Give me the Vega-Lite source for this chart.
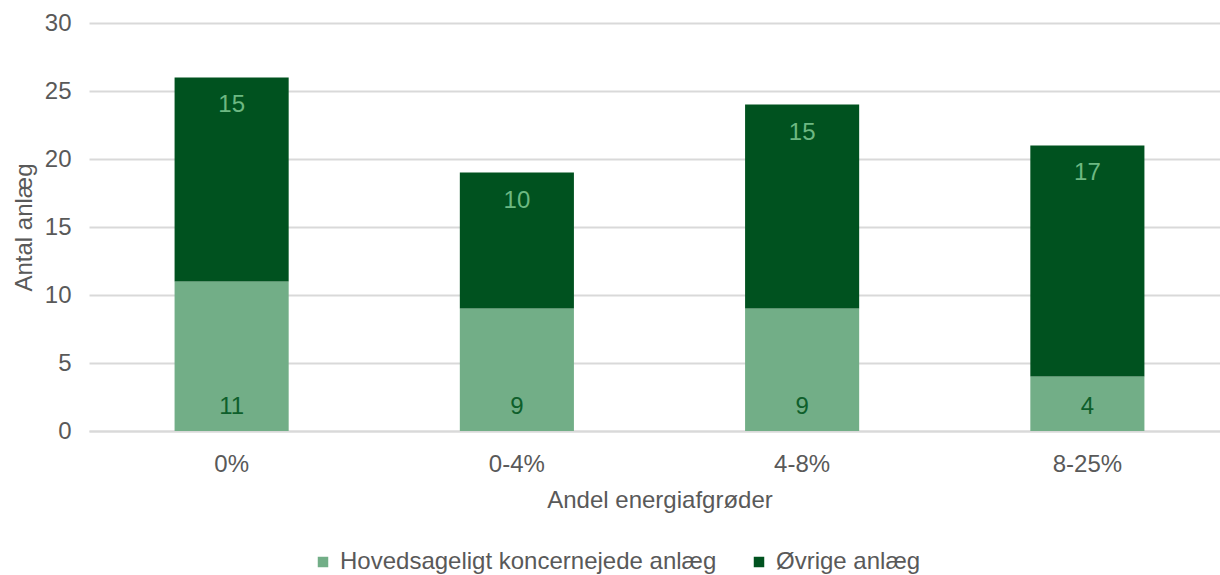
{
  "$schema": "https://vega.github.io/schema/vega-lite/v6.json",
  "autosize": "none",
  "padding": {"left": 89, "top": 23, "right": 0, "bottom": 144},
  "width": 1141,
  "height": 408,
  "background": "white",
  "config": {
    "font": "Liberation Sans",
    "view": {"stroke": null}
  },
  "data": {
    "values": [
      {"andel": "0%", "type": "Hovedsageligt koncernejede anlæg", "antal": 11, "rank": 1},
      {"andel": "0%", "type": "Øvrige anlæg", "antal": 15, "rank": 2},
      {"andel": "0-4%", "type": "Hovedsageligt koncernejede anlæg", "antal": 9, "rank": 1},
      {"andel": "0-4%", "type": "Øvrige anlæg", "antal": 10, "rank": 2},
      {"andel": "4-8%", "type": "Hovedsageligt koncernejede anlæg", "antal": 9, "rank": 1},
      {"andel": "4-8%", "type": "Øvrige anlæg", "antal": 15, "rank": 2},
      {"andel": "8-25%", "type": "Hovedsageligt koncernejede anlæg", "antal": 4, "rank": 1},
      {"andel": "8-25%", "type": "Øvrige anlæg", "antal": 17, "rank": 2}
    ]
  },
  "transform": [
    {"stack": "antal", "groupby": ["andel"], "sort": [{"field": "rank", "order": "ascending"}], "as": ["y0", "y1"]}
  ],
  "encoding": {
    "x": {
      "field": "andel",
      "type": "nominal",
      "sort": ["0%", "0-4%", "4-8%", "8-25%"],
      "scale": {"paddingInner": 0.6, "paddingOuter": 0.3},
      "axis": {
        "title": "Andel energiafgrøder",
        "titleFontSize": 24,
        "titleFontWeight": "normal",
        "titleColor": "#595959",
        "titlePadding": 12,
        "labelAngle": 0,
        "labelFontSize": 24,
        "labelColor": "#595959",
        "labelPadding": 21,
        "ticks": false,
        "domain": true,
        "domainColor": "#D9D9D9",
        "domainWidth": 2
      }
    }
  },
  "layer": [
    {
      "mark": {"type": "bar"},
      "encoding": {
        "y": {
          "field": "y0",
          "type": "quantitative",
          "scale": {"domain": [0, 30]},
          "axis": {
            "title": "Antal anlæg",
            "titleFontSize": 24,
            "titleFontWeight": "normal",
            "titleColor": "#595959",
            "titlePadding": 8,
            "values": [0, 5, 10, 15, 20, 25, 30],
            "labelFontSize": 24,
            "labelColor": "#595959",
            "labelPadding": 18,
            "ticks": false,
            "domain": false,
            "grid": true,
            "gridColor": "#D9D9D9",
            "gridWidth": 2
          }
        },
        "y2": {"field": "y1"},
        "color": {
          "field": "type",
          "type": "nominal",
          "sort": ["Hovedsageligt koncernejede anlæg", "Øvrige anlæg"],
          "scale": {"domain": ["Hovedsageligt koncernejede anlæg", "Øvrige anlæg"], "range": ["#72AE87", "#00521F"]},
          "legend": {
            "title": null,
            "orient": "none",
            "direction": "horizontal",
            "legendX": 222,
            "legendY": 527,
            "symbolType": "square",
            "symbolSize": 110,
            "symbolStrokeWidth": 0,
            "labelFontSize": 24,
            "labelColor": "#595959",
            "labelOffset": 5,
            "labelLimit": 0,
            "columnPadding": 30
          }
        }
      }
    },
    {
      "transform": [{"filter": "datum.rank == 1"}],
      "mark": {"type": "text", "fontSize": 24, "color": "#0E5F2B", "baseline": "middle", "dy": -24},
      "encoding": {
        "y": {"field": "y0", "type": "quantitative"},
        "text": {"field": "antal", "type": "quantitative"}
      }
    },
    {
      "transform": [{"filter": "datum.rank == 2"}],
      "mark": {"type": "text", "fontSize": 24, "color": "#6DB882", "baseline": "middle", "dy": 28},
      "encoding": {
        "y": {"field": "y1", "type": "quantitative"},
        "text": {"field": "antal", "type": "quantitative"}
      }
    }
  ]
}
